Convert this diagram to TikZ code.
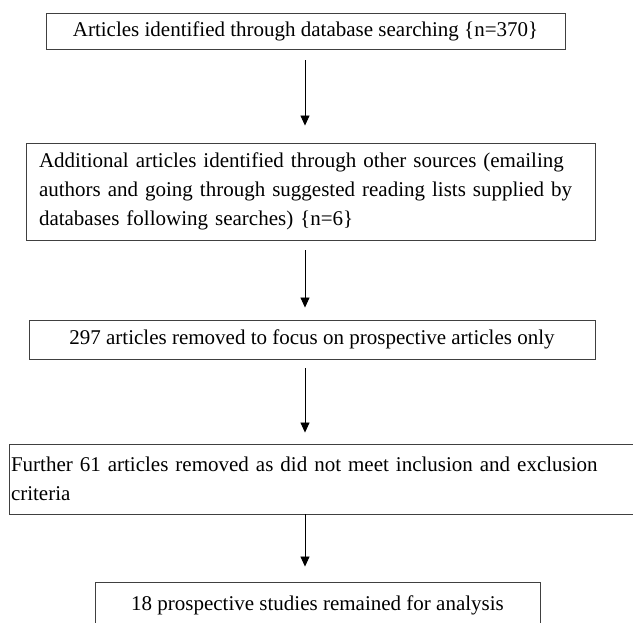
\documentclass[tikz,border=0pt]{standalone}
\usepackage{fontspec}
\setmainfont{Liberation Serif}
\usetikzlibrary{arrows.meta,positioning}

\begin{document}
\begin{tikzpicture}[
  x=1pt,y=-1pt,
  stage/.style={
    draw=black!75,
    line width=0.9pt,
    inner xsep=3pt,
    inner ysep=0pt,
    font=\fontsize{21}{29}\selectfont
  },
  flow/.style={
    draw=black,
    line width=0.8pt,
    -{Triangle[length=10pt,width=9pt]}
  }
]
  \useasboundingbox (0,0) rectangle (633,623);
  \clip (0,0) rectangle (633,623);

  \node[stage,minimum width=519pt,minimum height=36pt] (search) at (305.5,31)
    {Articles identified through database searching \{n=370\}};
  \node[stage,minimum width=569pt,minimum height=97pt,text width=543pt,align=left] (other) at (310.5,191.5)
    {Additional articles identified through other sources (emailing\\
     authors and going through suggested reading lists supplied by\\
     databases following searches) \{n=6\}};
  \node[stage,minimum width=566pt,minimum height=39pt] (removed) at (312,339.5)
    {297 articles removed to focus on prospective articles only};
  \node[stage,inner xsep=2pt,minimum height=70pt,text width=636pt,align=left] (criteria) at (329,479)
    {Further 61 articles removed as did not meet inclusion and exclusion\\
     criteria};
  \node[stage,minimum width=445pt,minimum height=46pt] (final) at (317.5,605)
    {18 prospective studies remained for analysis};

  \draw[flow,shorten <=11pt,shorten >=17pt] (search.south -| 305,0) -- (other.north -| 305,0);
  \draw[flow,shorten <=10pt,shorten >=12pt] (other.south -| 305,0) -- (removed.north -| 305,0);
  \draw[flow,shorten <=9pt,shorten >=11pt] (removed.south -| 305,0) -- (criteria.north -| 305,0);
  \draw[flow,shorten >=15pt] (criteria.south -| 305,0) -- (final.north -| 305,0);
\end{tikzpicture}
\end{document}
